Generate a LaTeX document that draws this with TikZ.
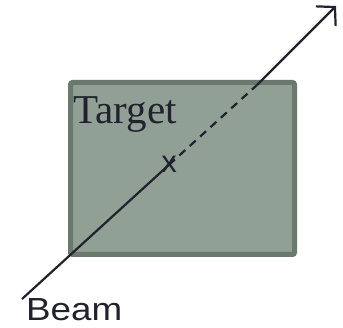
\documentclass[tikz,border=0pt]{standalone}
\usepackage{fontspec}
\setmainfont{Liberation Serif}
\newfontfamily\arialfont{Liberation Sans}
\usetikzlibrary{arrows.meta}
\definecolor{ink}{RGB}{34,34,46}
\definecolor{slab}{RGB}{145,160,149}
\definecolor{slabedge}{RGB}{107,120,109}

\begin{document}
\begin{tikzpicture}[
  x=1pt, y=-1pt,
  targetbox/.style ={draw=slabedge, fill=slab, line width=5pt, rounded corners=2pt,
                     minimum width=224pt, minimum height=172pt, inner sep=0pt},
  lbl/.style       ={text=ink, inner sep=0pt, anchor=base west},
  beam/.style      ={draw=ink, line width=2.2pt},
  arr/.style       ={-{Straight Barb[length=13pt, width=28pt, line width=2.2pt]}},
]
\useasboundingbox (0,0) rectangle (343,328);

\node[targetbox] (target) at (182.5,168.5) {};
\node[lbl, font=\fontsize{41}{48}\selectfont] (tlabel) at (73,124) {Target};
\node[lbl, anchor=base, font=\arialfont\fontsize{31}{36}\selectfont] (hit) at (169,173) {x};

\coordinate (start) at (22,299);
\coordinate (exit)  at (257,85);
\coordinate (tip)   at (336,6);
\node[lbl, font=\arialfont\fontsize{32}{38}\selectfont] (beamlbl) at (26,321)
  {\scalebox{1.15}[1]{Beam}};

\draw[beam] (start) -- (hit.center);
\draw[beam, dash pattern=on 8pt off 6pt] (hit.center) -- (exit);
\draw[beam, arr] (exit) -- (tip);
\end{tikzpicture}
\end{document}
